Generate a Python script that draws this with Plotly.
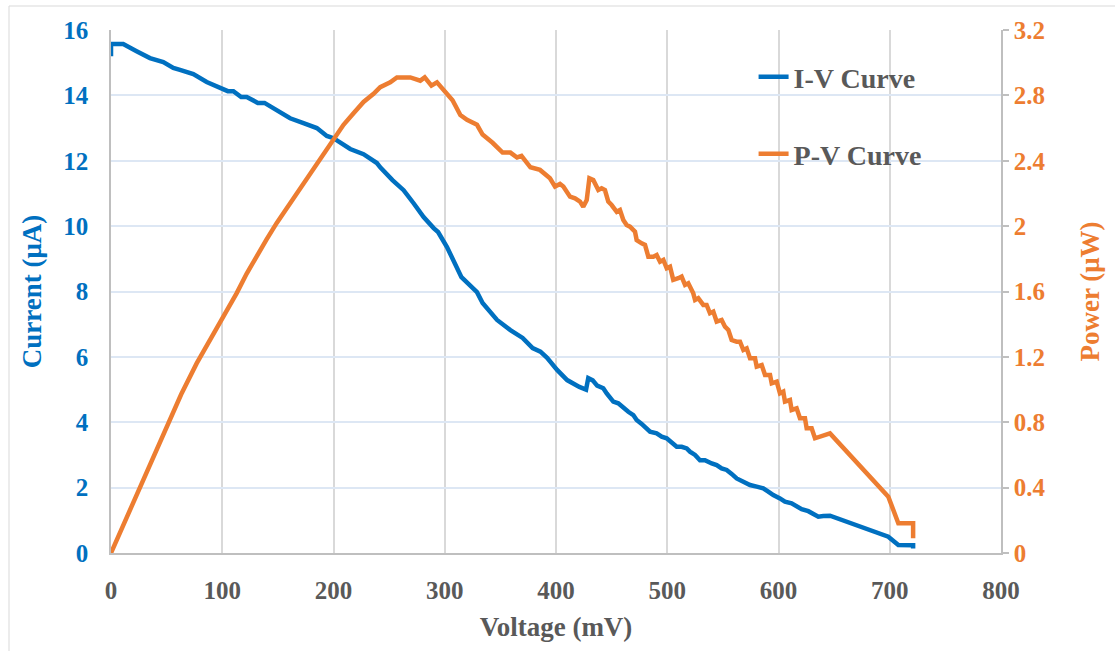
import plotly.graph_objects as go

# ---- I-V curve (Voltage mV, Current uA) ----
v_iv = [0, 0, 2, 11, 23, 35, 47, 56, 62, 74, 86, 98, 105, 110, 117, 122, 132, 138, 152, 161,
        173, 185, 194, 200, 215, 227, 239, 242, 253, 263, 272, 281, 290, 294, 302, 311, 315,
        329, 334, 347, 359, 370, 379, 386, 392, 401, 410, 421, 427, 429, 433, 437, 442.5,
        445.6, 451.5, 456, 460.5, 465, 469.5, 472.5, 477, 484.5, 490.5, 495, 499.5, 504,
        508.5, 513, 517.5, 520.4, 525, 529.4, 533.9, 540, 544.4, 548.9, 553.4, 557.9, 562.4,
        568.4, 574.4, 580.4, 586.3, 590.8, 595.3, 601.3, 605.8, 611.8, 616.3, 620.8, 626.8,
        631.3, 635.8, 640.3, 646.3, 698.7, 707.7, 721, 721]
i_iv = [15.2, 15.57, 15.57, 15.57, 15.35, 15.14, 15.02, 14.84, 14.78, 14.65, 14.41, 14.25,
        14.13, 14.13, 13.95, 13.95, 13.77, 13.77, 13.46, 13.3, 13.15, 13.0, 12.76, 12.69,
        12.36, 12.2, 11.93, 11.8, 11.41, 11.1, 10.7, 10.28, 9.94, 9.82, 9.36, 8.75, 8.44,
        7.98, 7.65, 7.13, 6.82, 6.58, 6.27, 6.16, 5.97, 5.6, 5.29, 5.08, 5.0, 5.35, 5.28,
        5.12, 5.04, 4.88, 4.63, 4.58, 4.43, 4.32, 4.22, 4.07, 3.95, 3.71, 3.66, 3.56, 3.51,
        3.36, 3.25, 3.25, 3.20, 3.10, 3.00, 2.84, 2.84, 2.74, 2.69, 2.59, 2.54, 2.42, 2.28,
        2.18, 2.08, 2.03, 1.98, 1.88, 1.77, 1.67, 1.57, 1.52, 1.42, 1.34, 1.28, 1.18, 1.11,
        1.13, 1.14, 0.50, 0.245, 0.24, 0.14]

# ---- P-V curve (Voltage mV, Power uW) ----
v_pv = [0, 13, 26, 38, 50, 63, 77, 89, 101, 113, 122, 131, 140, 149, 158, 167, 176, 188, 200,
        209, 218, 227, 236, 242, 251,
        257, 269, 278, 282, 288, 293, 300, 307, 314, 320, 329, 334, 343, 352, 359, 365, 369,
        377, 385.6, 394.6, 399.1, 403.6, 406.6, 412.6, 417.1, 421.6, 424.5, 427.6, 430,
        433.5, 438, 441, 444, 447, 450, 454.6, 457.5, 460.5, 463.5, 466.5, 471, 472.5, 477,
        480, 483, 487.5, 490.5, 493.5, 496.5, 499.5, 502.5, 505.4, 509.9, 512.9, 516,
        518.9, 523.4, 525, 527.9, 532.4, 535.4, 538.4, 541.4, 544.4, 548.9, 551.9, 554.9,
        557.9, 562.4, 565.4, 568.4, 571.4, 574.4, 578.9, 580.4, 584.9, 587.9, 592.4, 593.9,
        598.4, 601.3, 604.3, 605.8, 610.3, 611.8, 616.3, 619.3, 623.8, 625.3, 629.8, 632.8,
        637.3, 643.3, 646.3, 698.7, 707.7, 721, 721]
p_pv = [0, 0.20, 0.40, 0.59, 0.78, 0.97, 1.16, 1.30, 1.44, 1.59, 1.71, 1.82, 1.92, 2.02,
        2.11, 2.21, 2.30, 2.42, 2.53, 2.62, 2.69,
        2.76, 2.81, 2.85, 2.88, 2.91, 2.91, 2.89, 2.91, 2.86, 2.88, 2.82, 2.77, 2.68, 2.65,
        2.62, 2.56, 2.51, 2.45, 2.45, 2.42, 2.43, 2.36, 2.344, 2.293, 2.242, 2.258, 2.242,
        2.180, 2.170, 2.150, 2.119, 2.160, 2.293, 2.282, 2.221, 2.232, 2.221, 2.150, 2.129,
        2.088, 2.099, 2.038, 2.007, 1.997, 1.966, 1.915, 1.895, 1.885, 1.813, 1.813, 1.823,
        1.782, 1.793, 1.742, 1.752, 1.671, 1.681, 1.691, 1.640, 1.650, 1.589, 1.548, 1.559,
        1.518, 1.518, 1.467, 1.477, 1.416, 1.426, 1.385, 1.365, 1.303, 1.293, 1.293, 1.242,
        1.252, 1.191, 1.191, 1.140, 1.150, 1.089, 1.089, 1.038, 1.048, 0.977, 0.987, 0.926,
        0.936, 0.875, 0.885, 0.824, 0.824, 0.763, 0.763, 0.702, 0.712, 0.722, 0.732, 0.345,
        0.182, 0.182, 0.09]

x_ticks = [0, 100, 200, 300, 400, 500, 600, 700, 800]
y_ticks = [0, 2, 4, 6, 8, 10, 12, 14, 16]
y2_ticks = [0, 0.4, 0.8, 1.2, 1.6, 2.0, 2.4, 2.8, 3.2]
y2_labels = ["0", "0.4", "0.8", "1.2", "1.6", "2", "2.4", "2.8", "3.2"]

BLUE = "#0070C0"
ORANGE = "#ED7D31"
GREY = "#595959"
FONT = "serif"

fig = go.Figure()
fig.add_trace(go.Scatter(x=v_iv, y=i_iv, mode="lines", name="I-V Curve", showlegend=True,
                         line=dict(color=BLUE, width=4.5), legend="legend"))
fig.add_trace(go.Scatter(x=v_pv, y=p_pv, mode="lines", name="P-V Curve", yaxis="y2",
                         showlegend=True, line=dict(color=ORANGE, width=4.5), legend="legend2"))

fig.update_layout(
    width=1115, height=651,
    margin=dict(l=111, r=114, t=30, b=98),
    plot_bgcolor="white",
    font=dict(family=FONT, size=25),
    xaxis=dict(range=[0, 800], tickvals=x_ticks, showgrid=True, gridcolor="#d9d9d9",
               gridwidth=1.5, showline=True, linecolor="#bfbfbf", linewidth=1.5,
               zeroline=False, ticks="outside", ticklen=14, tickcolor="white",
               tickfont=dict(family=FONT, size=25, color=GREY, weight="bold"),
               title=dict(text="Voltage (mV)", standoff=14,
                          font=dict(family=FONT, size=27, color=GREY, weight="bold"))),
    yaxis=dict(range=[0, 16], tickvals=y_ticks, showgrid=True, gridcolor="#dde7f4",
               gridwidth=1.5, showline=True, linecolor="#bfbfbf", linewidth=1.5,
               zeroline=False, ticks="outside", ticklen=16, tickcolor="white",
               tickfont=dict(family=FONT, size=25, color=BLUE, weight="bold"),
               title=dict(text="Current (μA)", standoff=14,
                          font=dict(family=FONT, size=27, color=BLUE, weight="bold"))),
    yaxis2=dict(range=[0, 3.2], tickvals=y2_ticks, ticktext=y2_labels, overlaying="y",
                side="right", showgrid=False, showline=True, linecolor="#bfbfbf",
                linewidth=1.5, zeroline=False, ticks="outside", ticklen=6,
                tickcolor="#bfbfbf", tickwidth=1.5,
                tickfont=dict(family=FONT, size=25, color=ORANGE, weight="bold"),
                title=dict(text="Power (μW)", standoff=36,
                           font=dict(family=FONT, size=27, color=ORANGE, weight="bold"))),
    legend=dict(x=0.722, y=0.910, xanchor="left", yanchor="middle",
                bgcolor="rgba(0,0,0,0)",
                font=dict(family=FONT, size=28, color=GREY, weight="bold")),
    legend2=dict(x=0.722, y=0.763, xanchor="left", yanchor="middle",
                 bgcolor="rgba(0,0,0,0)",
                 font=dict(family=FONT, size=28, color=GREY, weight="bold")),
    shapes=[dict(type="rect", xref="paper", yref="paper",
                 x0=(9 - 111) / 890, x1=(1125 - 111) / 890,
                 y0=(553 - 660) / 523, y1=(553 - 6) / 523,
                 line=dict(color="#d9d9d9", width=1), fillcolor="rgba(0,0,0,0)", layer="below")],
)

fig.write_html("out.html")
